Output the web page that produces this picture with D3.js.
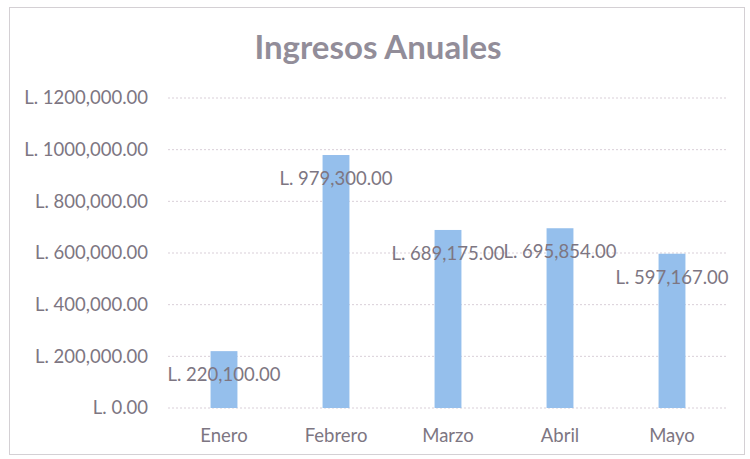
<!DOCTYPE html>
<html>
<head>
<meta charset="utf-8">
<script src="https://cdn.jsdelivr.net/npm/d3@7"></script>
<style>
  body { margin: 0; background: #fff; }
  text { font-family: Lato, "Open Sans", sans-serif; }
</style>
</head>
<body>
<div id="chart"></div>
<script>
// Chart data
const months = ["Enero", "Febrero", "Marzo", "Abril", "Mayo"];
const ingresos = [220100, 979300, 689175, 695854, 597167];
const yTicks = [0, 200000, 400000, 600000, 800000, 1000000, 1200000];

const width = 750;
const height = 459;
const margin = { top: 98, right: 22, bottom: 51, left: 168 };

const svg = d3.select("#chart").append("svg")
    .attr("width", width)
    .attr("height", height);

// outer frame
svg.append("rect")
    .attr("x", 9.5).attr("y", 7.5)
    .attr("width", 735).attr("height", 447)
    .attr("fill", "#fff")
    .attr("stroke", "#d4d0d4");

const x = d3.scaleBand()
    .domain(months)
    .range([margin.left, width - margin.right])
    .paddingInner(0.76)
    .paddingOuter(0.38);

const y = d3.scaleLinear()
    .domain([0, 1200000])
    .range([height - margin.bottom, margin.top]);

// excel-style label: no thousands comma above the million
const fmt = v => "L. " + d3.format(",.2f")(v).replace(/^1,(\d)/, "1$1");

// title
svg.append("text")
    .attr("x", 378).attr("y", 59)
    .attr("text-anchor", "middle")
    .attr("font-size", 33)
    .attr("font-weight", "bold")
    .attr("fill", "#928d99")
    .text("Ingresos Anuales");

// gridlines
svg.append("g")
    .selectAll("line")
    .data(yTicks)
    .join("line")
    .attr("x1", margin.left).attr("x2", width - margin.right)
    .attr("y1", d => y(d)).attr("y2", d => y(d))
    .attr("stroke", "#d9cfd8")
    .attr("stroke-dasharray", "2,2");

// y axis
const yAxis = svg.append("g")
    .attr("transform", `translate(${margin.left},0)`)
    .call(d3.axisLeft(y).tickValues(yTicks).tickFormat(fmt).tickSize(0).tickPadding(20));
yAxis.select(".domain").remove();
yAxis.selectAll("text")
    .attr("font-size", 18.5)
    .attr("fill", "#7d7682")
    .style("font-family", "Lato, sans-serif");

// x axis
const xAxis = svg.append("g")
    .attr("transform", `translate(0,${height - margin.bottom})`)
    .call(d3.axisBottom(x).tickSize(0).tickPadding(21));
xAxis.select(".domain").remove();
xAxis.selectAll("text")
    .attr("font-size", 18.5)
    .attr("fill", "#7d7682")
    .style("font-family", "Lato, sans-serif");

// bars
svg.append("g")
    .selectAll("rect")
    .data(ingresos)
    .join("rect")
    .attr("x", (d, i) => x(months[i]))
    .attr("y", d => y(d))
    .attr("width", x.bandwidth())
    .attr("height", d => y(0) - y(d))
    .attr("fill", "#95bfec");

// data labels
svg.append("g")
    .selectAll("text")
    .data(ingresos)
    .join("text")
    .attr("x", (d, i) => x(months[i]) + x.bandwidth() / 2)
    .attr("y", d => y(d) + 30)
    .attr("text-anchor", "middle")
    .attr("font-size", 18.5)
    .attr("fill", "#7d7682")
    .text(d => fmt(d));
</script>
</body>
</html>
